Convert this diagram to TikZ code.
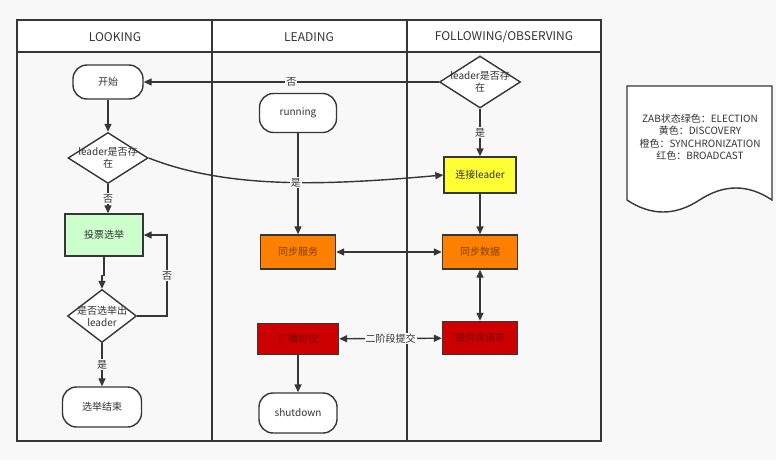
\documentclass[tikz,border=0pt]{standalone}
\usepackage{fontspec}
\setmainfont{Noto Sans CJK SC}
\usetikzlibrary{arrows.meta,shapes.geometric}
\definecolor{linec}{HTML}{363636}
\definecolor{txtc}{HTML}{333333}
\definecolor{bgc}{HTML}{F8F8F8}
\definecolor{greenf}{HTML}{CCFFCC}
\definecolor{yellowf}{HTML}{FFFF33}
\definecolor{orangef}{HTML}{FF8000}
\definecolor{redf}{HTML}{CC0000}
\definecolor{orangetxt}{HTML}{7A4000}
\definecolor{redtxt}{HTML}{7A0000}
\begin{document}
\begin{tikzpicture}[x=1pt,y=-1pt,line width=1.4pt,color=linec,
  box/.style={draw=linec,text=txtc,font=\fontsize{10}{12}\selectfont,inner sep=0pt},
  term/.style={box,fill=white,rounded corners=14pt},
  proc/.style={box},
  dec/.style={diamond,draw=linec,fill=white,inner sep=0pt},
  dtxt/.style={text=txtc,font=\fontsize{10}{12}\selectfont,align=center},
  lab/.style={fill=bgc,text=txtc,font=\fontsize{10}{12}\selectfont,inner sep=1pt},
  head/.style={text=txtc,font=\fontsize{12}{14}\selectfont},
  arr/.style={-{Triangle[length=8pt,width=7pt]}},
  dbl/.style={{Triangle[length=8pt,width=7pt]}-{Triangle[length=8pt,width=7pt]}}]
\useasboundingbox (0,0) rectangle (776,476);
\fill[bgc] (0,0) rectangle (776,460);
% lanes
\fill[white] (17,20) rectangle (601,52);
\draw (17,20) rectangle (601,441);
\draw (17,52) -- (601,52);
\draw (212,20) -- (212,441);
\draw (407,20) -- (407,441);
\node[head] (hlook) at (115,37) {LOOKING};
\node[head] (hlead) at (309,37) {LEADING};
\node[head] (hfollow) at (504,37) {FOLLOWING/OBSERVING};
% LOOKING
\node[term,minimum width=70pt,minimum height=34pt] (start) at (108,82) {开始};
\node[dec,minimum width=80pt,minimum height=51pt,label={[dtxt]center:{leader是否存\\在}}] (d1) at (108,158) {};
\node[proc,fill=greenf,minimum width=78pt,minimum height=42pt] (vote) at (104,235) {投票选举};
\node[dec,minimum width=69pt,minimum height=53pt,label={[dtxt]center:{是否选举出\\leader}}] (d2) at (102,316) {};
\node[term,minimum width=79pt,minimum height=40pt] (end) at (102,407) {选举结束};
\coordinate (back) at (167,235);
% LEADING
\node[term,minimum width=77pt,minimum height=39pt] (running) at (298,113) {running};
\node[proc,fill=orangef,text=orangetxt,minimum width=75pt,minimum height=34pt] (sync) at (298,252) {同步服务};
\node[proc,fill=redf,text=redtxt,minimum width=81pt,minimum height=31pt] (bcast) at (298,339) {广播协议};
\node[term,minimum width=78pt,minimum height=40pt] (shut) at (298,413) {shutdown};
% FOLLOWING/OBSERVING
\node[dec,minimum width=81pt,minimum height=52pt,label={[dtxt]center:{leader是否存\\在}}] (d3) at (480,82) {};
\node[proc,fill=yellowf,minimum width=72pt,minimum height=36pt] (conn) at (480,175) {连接leader};
\node[proc,fill=orangef,text=orangetxt,minimum width=75pt,minimum height=34pt] (syncd) at (480,252) {同步数据};
\node[proc,fill=redf,text=redtxt,minimum width=75pt,minimum height=33pt] (read) at (480,338) {提供读请求};
% edges
\draw[arr] (d3.west) -- node[lab]{否} (start.east);
\draw[arr] (start) -- (d1);
\draw[arr] (d1.south) -- node[lab]{否} (d1.south |- vote.north);
\draw[arr] (vote.south) -- ++(0,19) -| (d2.north);
\draw[arr] (d2.east) -| node[lab,pos=0.75]{否} (back) -- (vote.east);
\draw[arr] (d2.south) -- node[lab]{是} (end.north);
\draw[arr] (running) -- (sync);
\draw[arr] (d1.east) .. controls (230,190) and (330,185) .. node[lab,pos=0.54]{是} (conn.west);
\draw[arr] (d3) -- node[lab]{是} (conn);
\draw[arr] (conn) -- (syncd);
\draw[dbl] (sync) -- (syncd);
\draw[dbl] (syncd) -- (read);
\draw[dbl] (bcast) -- node[lab]{二阶段提交} (read);
\draw[arr] (bcast) -- (shut);
% legend
\draw[fill=white] (627,86) -- (772,86) -- (772,200) .. controls (748,184) and (724,184) .. (699.5,200) .. controls (675,216) and (651,216) .. (627,200) -- cycle;
\node[text=txtc,font=\fontsize{10}{12.4}\selectfont,align=center] (legend) at (700,137) {ZAB状态绿色：ELECTION\\黄色：DISCOVERY\\橙色：SYNCHRONIZATION\\红色：BROADCAST};
\end{tikzpicture}
\end{document}
